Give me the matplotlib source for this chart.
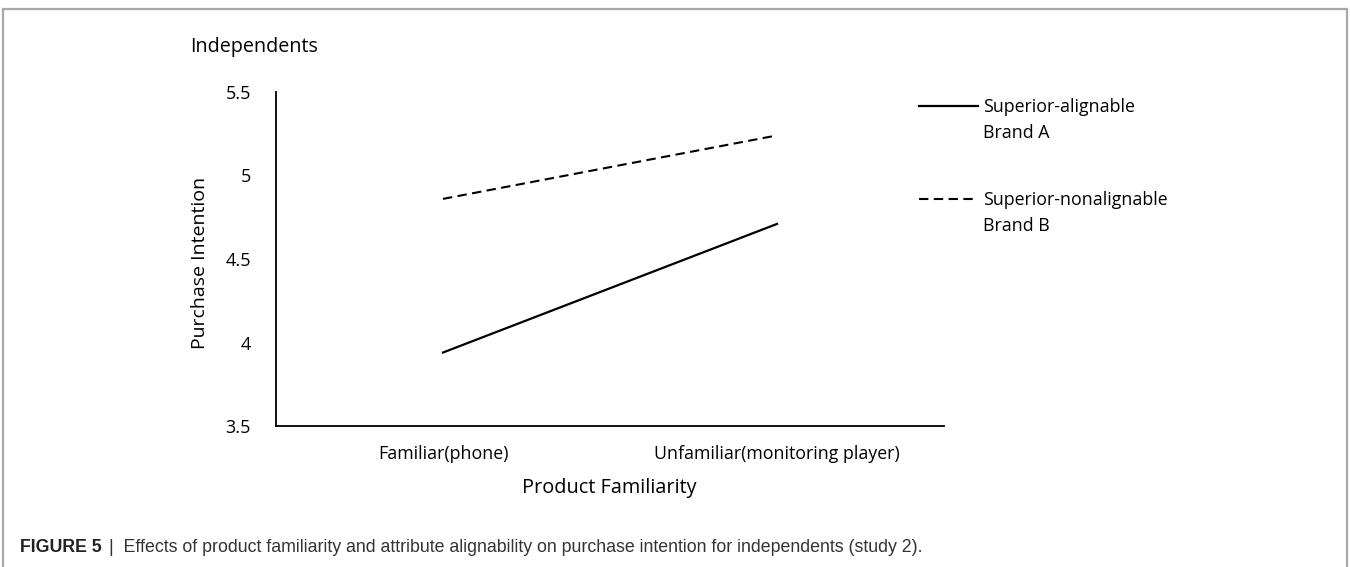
import matplotlib.pyplot as plt
from matplotlib.lines import Line2D
from matplotlib.patches import Rectangle

categories = ["Familiar(phone)", "Unfamiliar(monitoring player)"]
alignable = [3.94, 4.71]
nonalignable = [4.86, 5.24]
yticks = [3.5, 4, 4.5, 5, 5.5]
ytick_labels = ["3.5", "4", "4.5", "5", "5.5"]
legend_labels = ["Superior-alignable\nBrand A", "Superior-nonalignable\nBrand B"]

plt.rcParams["font.family"] = ["Open Sans", "DejaVu Sans"]

W, H = 1350, 567
fig = plt.figure(figsize=(13.5, 5.67), dpi=100)
ax = fig.add_axes([276 / W, 1 - 426 / H, 668 / W, 334 / H])

solid_style = dict(color="black", lw=1.6)
dash_style = dict(color="black", lw=1.5, ls=(0, (4.5, 2.6)))

x = list(range(len(categories)))
ax.plot(x, alignable, **solid_style)
ax.plot(x, nonalignable, **dash_style)

ax.set_xlim(-0.5, 1.5)
ax.set_ylim(3.5, 5.5)
ax.set_xticks(x)
ax.set_xticklabels(categories, fontsize=12.8)
ax.set_yticks(yticks)
ax.set_yticklabels(ytick_labels, fontsize=13)
ax.tick_params(length=0)
ax.tick_params(axis="y", pad=18)
ax.tick_params(axis="x", pad=14)
for s in ["top", "right"]:
    ax.spines[s].set_visible(False)
for s in ["left", "bottom"]:
    ax.spines[s].set_linewidth(1.3)

fig.text(200 / W, 1 - 263 / H, "Purchase Intention", fontsize=14, rotation=90,
         ha="center", va="center")
fig.text(609 / W, 1 - 488 / H, "Product Familiarity", fontsize=14.3,
         ha="center", va="center")
fig.text(190 / W, 1 - 47 / H, "Independents", fontsize=14.2, va="center", ha="left")

# legend, drawn by hand so the key sits beside the first line of each label
for (ly, style, label) in [(106, solid_style, legend_labels[0]),
                           (199, dash_style, legend_labels[1])]:
    fig.add_artist(Line2D([919 / W, 978 / W], [1 - ly / H, 1 - ly / H],
                          transform=fig.transFigure, **style))
    fig.text(983 / W, 1 - (ly - 8) / H, label, fontsize=12.8, va="top",
             ha="left", linespacing=1.6)

# frame around the figure panel
fig.patches.append(Rectangle((3 / W, -0.05), 1344 / W, 1.05 - 9 / H,
                             transform=fig.transFigure, fill=False,
                             edgecolor="#a8a8a8", lw=1.6))

t1 = fig.text(20 / W, 1 - 547 / H, "FIGURE 5", fontsize=12.8, fontweight="bold",
              family="Liberation Sans", va="center", color="#222222")
plt.annotate("|  Effects of product familiarity and attribute alignability on purchase intention for independents (study 2).",
             xy=(1, 0.5), xycoords=t1, xytext=(5, 0), textcoords="offset points",
             fontsize=12.8, family="Liberation Sans", va="center", color="#333333",
             annotation_clip=False)

fig.savefig("out.png", dpi=100)
